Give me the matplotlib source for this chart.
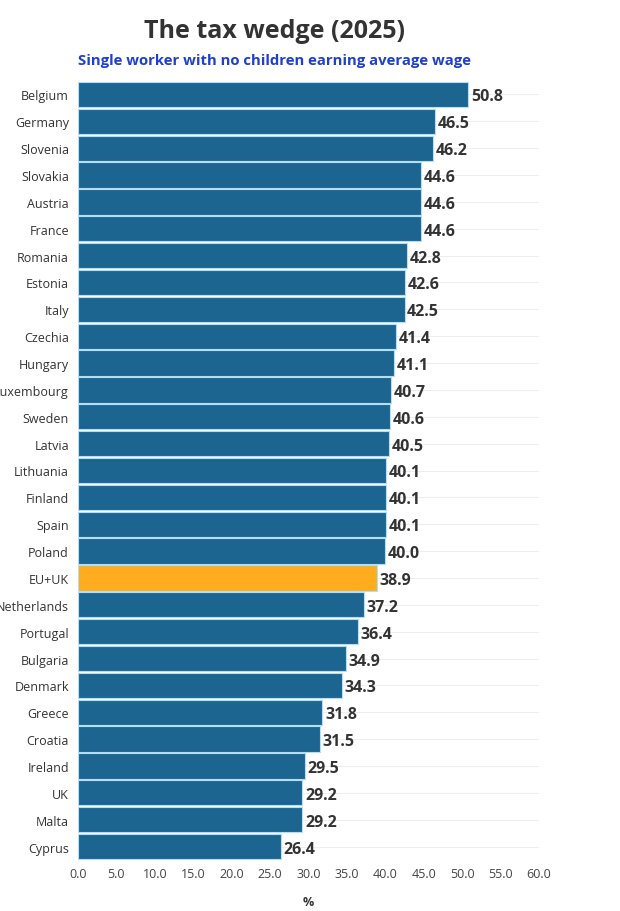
import matplotlib
matplotlib.use("Agg")
import matplotlib.pyplot as plt

countries = ["Belgium", "Germany", "Slovenia", "Slovakia", "Austria", "France", "Romania",
             "Estonia", "Italy", "Czechia", "Hungary", "Luxembourg", "Sweden", "Latvia",
             "Lithuania", "Finland", "Spain", "Poland", "EU+UK", "Netherlands", "Portugal",
             "Bulgaria", "Denmark", "Greece", "Croatia", "Ireland", "UK", "Malta", "Cyprus"]
values = [50.8, 46.5, 46.2, 44.6, 44.6, 44.6, 42.8, 42.6, 42.5, 41.4, 41.1, 40.7, 40.6, 40.5,
          40.1, 40.1, 40.1, 40.0, 38.9, 37.2, 36.4, 34.9, 34.3, 31.8, 31.5, 29.5, 29.2, 29.2, 26.4]
x_ticks = [0, 5, 10, 15, 20, 25, 30, 35, 40, 45, 50, 55, 60]

plt.rcParams['font.family'] = ['Open Sans', 'DejaVu Sans']

fig = plt.figure(figsize=(6.2, 9.12), dpi=100)
ax = fig.add_axes([78/620, 1-861/912, (539-78)/620, (861-82)/912])

n = len(countries)
ypos = list(range(n))
colors = ["#ffad1f" if c == "EU+UK" else "#1c6591" for c in countries]
ax.barh(ypos, values, height=0.94, color=colors, edgecolor="#b3def5", linewidth=0.8, zorder=3)
for y, v in zip(ypos, values):
    ax.text(v + 0.35, y, f"{v:.1f}", va="center_baseline", ha="left", fontsize=11.5,
            fontweight="bold", color="#333333", zorder=4)

ax.set_ylim(n - 0.5, -0.5)
ax.set_xlim(0, 60)
ax.set_yticks(ypos)
ax.set_yticklabels(countries, fontsize=9, color="#333333")
ax.set_xticks(x_ticks)
ax.set_xticklabels([f"{t:.1f}" for t in x_ticks], fontsize=9, color="#444444")
ax.tick_params(axis="y", length=0, pad=6.5)
ax.tick_params(axis="x", length=0, pad=5)
for s in ax.spines.values():
    s.set_visible(False)
ax.grid(axis="y", color="#eeeeee", linewidth=0.8, zorder=0)
ax.grid(axis="x", visible=False)
ax.set_xlabel("%", fontsize=9, fontweight="bold", color="#333333", labelpad=11)

fig.text(275/620, 1-31/912, "The tax wedge (2025)", ha="center", va="center",
         fontsize=18, fontweight="bold", color="#333333")
fig.text(275/620, 1-61/912, "Single worker with no children earning average wage", ha="center",
         va="center", fontsize=10.7, fontweight="bold", color="#1f3fcc")

fig.savefig("out.png", dpi=100, facecolor="white")
